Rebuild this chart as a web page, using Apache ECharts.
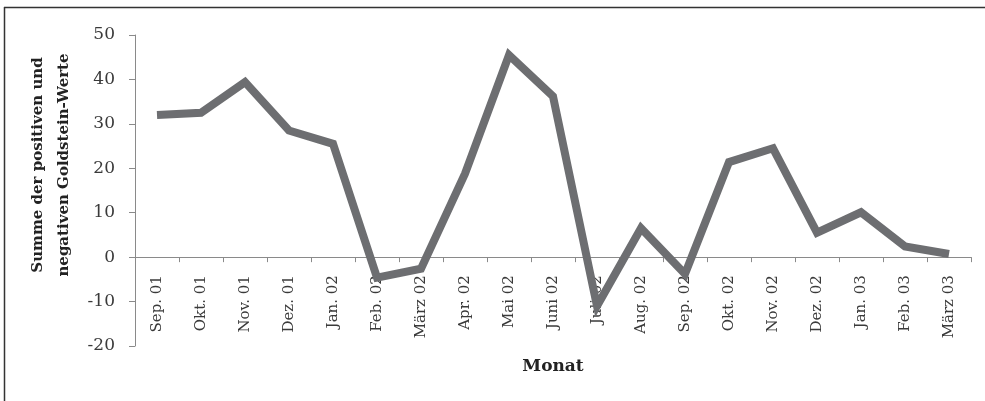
<!DOCTYPE html>
<html><head><meta charset="utf-8">
<script src="https://cdn.jsdelivr.net/npm/echarts@6/dist/echarts.min.js"></script>
<style>html,body{margin:0;padding:0;background:#fff}#c{width:985px;height:401px}</style>
</head><body><div id="c"></div>
<script>
const categories = ["Sep. 01","Okt. 01","Nov. 01","Dez. 01","Jan. 02","Feb. 02","März 02","Apr. 02","Mai 02","Juni 02","Juli 02","Aug. 02","Sep. 02","Okt. 02","Nov. 02","Dez. 02","Jan. 03","Feb. 03","März 03"];
const values = [32, 32.5, 39.4, 28.5, 25.5, -4.6, -2.6, 18.8, 45.5, 36.2, -11, 6.5, -3.8, 21.4, 24.5, 5.5, 10.1, 2.4, 0.7];
const yTicks = [-20, -10, 0, 10, 20, 30, 40, 50];
const yTitle = "Summe der positiven und\nnegativen Goldstein-Werte";
const xTitle = "Monat";

const font = "'DejaVu Serif', 'Liberation Serif', serif";
const gridTop = 35, gridBottom = 55, H = 401;
const plotH = H - gridTop - gridBottom;
const yMin = yTicks[0], yMax = yTicks[yTicks.length - 1];
// offset of the category axis so it sits on the value 0 line
const zeroOffset = -plotH * (0 - yMin) / (yMax - yMin);

const chart = echarts.init(document.getElementById('c'));
chart.setOption({
  animation: false,
  backgroundColor: '#fff',
  grid: {left: 135, right: 14, top: gridTop, bottom: gridBottom, containLabel: false, outerBoundsMode: 'none'},
  xAxis: {
    type: 'category', data: categories, boundaryGap: true, offset: zeroOffset,
    axisLine: {onZero: false, lineStyle: {color: '#8a8a8a', width: 1}},
    axisTick: {show: true, length: 5, inside: false, alignWithLabel: false, lineStyle: {color: '#8a8a8a'}},
    axisLabel: {rotate: 90, interval: 0, color: '#3a3a3a', fontFamily: font, fontSize: 15, margin: 18},
    name: xTitle, nameLocation: 'middle', nameGap: 101,
    nameTextStyle: {fontFamily: font, fontWeight: 'bold', fontSize: 17, color: '#222'}
  },
  yAxis: {
    type: 'value', min: yMin, max: yMax, interval: 10,
    axisLine: {show: true, lineStyle: {color: '#8a8a8a', width: 1}},
    axisTick: {show: true, length: 6, lineStyle: {color: '#8a8a8a'}},
    splitLine: {show: false},
    axisLabel: {color: '#3a3a3a', fontFamily: font, fontSize: 17, margin: 20}
  },
  series: [{
    type: 'line', data: values, symbol: 'none',
    lineStyle: {color: '#6d6e71', width: 8, join: 'miter'}
  }],
  graphic: [
    {type: 'line', shape: {x1: 4, y1: 7.5, x2: 985, y2: 7.5}, style: {stroke: '#333', lineWidth: 1.5}},
    {type: 'line', shape: {x1: 4.5, y1: 7, x2: 4.5, y2: 401}, style: {stroke: '#333', lineWidth: 1.5}},
    {type: 'text', x: 51, y: 165, rotation: Math.PI / 2,
     style: {text: yTitle, font: "bold 15px 'DejaVu Serif', serif", fill: '#222',
             textAlign: 'center', textVerticalAlign: 'middle', lineHeight: 26}}
  ]
});
</script></body></html>
